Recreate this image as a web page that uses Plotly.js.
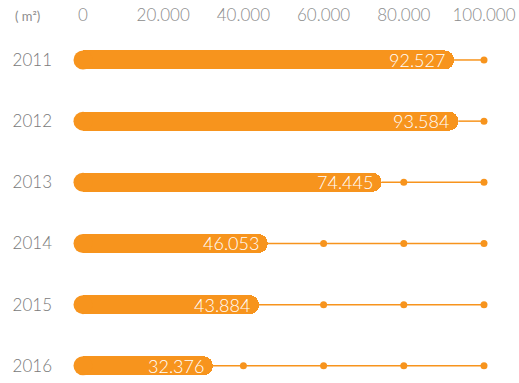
<!DOCTYPE html>
<html>
<head>
<meta charset="utf-8">
<script src="https://cdn.plot.ly/plotly-3.0.1.min.js"></script>
<style>html,body{margin:0;padding:0;background:#fff;}#chart{width:519px;height:383px;}</style>
</head>
<body>
<div id="chart"></div>
<script>
const years = ['2011', '2012', '2013', '2014', '2015', '2016'];
const values = [92527, 93584, 74445, 46053, 43884, 32376];
const valueLabels = ['92.527', '93.584', '74.445', '46.053', '43.884', '32.376'];
const tickVals = [0, 20000, 40000, 60000, 80000, 100000];
const tickText = ['0', '20.000', '40.000', '60.000', '80.000', '100.000'];
const unitLabel = '( m²)';

const orange = '#F7941D';
const maxVal = tickVals[tickVals.length - 1];

// connector lines from bar end to the max tick
const lx = [], ly = [];
years.forEach((y, i) => { lx.push(values[i], maxVal, null); ly.push(y, y, null); });
// dots at tick values beyond each bar
const dx = [], dy = [];
years.forEach((y, i) => { tickVals.forEach(t => { if (t > values[i]) { dx.push(t); dy.push(y); } }); });

const traces = [
  {type: 'scatter', mode: 'lines', x: lx, y: ly, line: {color: orange, width: 1.5},
   hoverinfo: 'skip', cliponaxis: false, showlegend: false},
  {type: 'bar', orientation: 'h', x: values, y: years, width: 0.31,
   marker: {color: orange, cornerradius: 9, line: {width: 0}},
   textposition: 'none', cliponaxis: false, showlegend: false},
  {type: 'scatter', mode: 'markers', x: years.map(() => 0), y: years,
   marker: {color: orange, size: 19, symbol: 'circle'},
   hoverinfo: 'skip', cliponaxis: false, showlegend: false},
  {type: 'scatter', mode: 'markers', x: dx, y: dy,
   marker: {color: orange, size: 7, symbol: 'circle'},
   hoverinfo: 'skip', cliponaxis: false, showlegend: false}
];

// on a category axis, annotation positions use the category index
const valueAnnots = years.map((y, i) => ({
  x: values[i], y: i, xref: 'x', yref: 'y', text: valueLabels[i],
  xanchor: 'right', yanchor: 'middle', xshift: -7, showarrow: false,
  font: {color: '#ffffff', size: 18, family: 'Lato', weight: 300}
}));

const layout = {
  width: 519, height: 383,
  margin: {l: 83, r: 35, t: 30, b: 8},
  paper_bgcolor: '#ffffff', plot_bgcolor: '#ffffff',
  showlegend: false,
  bargap: 0,
  xaxis: {
    side: 'top', range: [0, maxVal], tickvals: tickVals, ticktext: tickText,
    showgrid: false, zeroline: false, showline: false, ticks: '',
    tickfont: {family: 'Lato', size: 17, color: '#8c8c8c', weight: 300},
    ticklabelstandoff: 5, fixedrange: true
  },
  yaxis: {
    type: 'category', categoryorder: 'array', categoryarray: years,
    range: [5.15, -0.49],
    showgrid: false, zeroline: false, showline: false, ticks: '',
    tickfont: {family: 'Lato', size: 17, color: '#7a7a7a', weight: 300},
    ticklabelstandoff: 30, fixedrange: true
  },
  annotations: valueAnnots.concat([{
    text: unitLabel, xref: 'paper', yref: 'paper', x: -0.138, y: 1, xanchor: 'center', yanchor: 'bottom',
    showarrow: false, font: {family: 'Lato', size: 13, color: '#8c8c8c'}, yshift: 4
  }])
};

Plotly.newPlot('chart', traces, layout, {displayModeBar: false, staticPlot: true});
</script>
</body>
</html>
